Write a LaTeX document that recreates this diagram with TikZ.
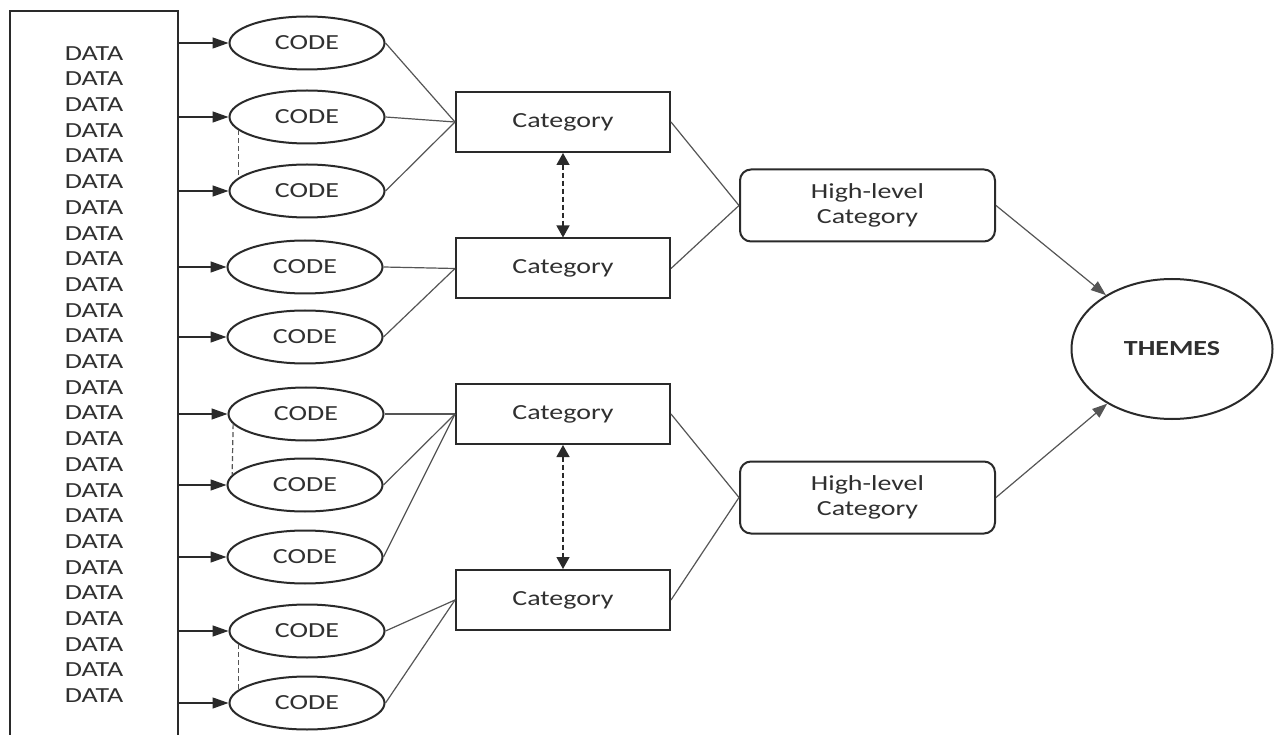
\documentclass[tikz,border=0pt]{standalone}
\usepackage{fontspec}
\setmainfont{Carlito}[FakeStretch=1.3]
\usetikzlibrary{shapes.geometric,arrows.meta}
\definecolor{bord}{HTML}{2a2a2a}
\definecolor{conn}{HTML}{555555}
\definecolor{txt}{HTML}{303030}
\begin{document}
\begin{tikzpicture}[x=1pt,y=-1pt,
  every node/.style={font={\fontsize{21.5}{25.7}\selectfont}, text=txt},
  datbox/.style={draw=bord, line width=2pt, rectangle, inner sep=0pt, minimum width=168pt, minimum height=727pt, align=center},
  codeell/.style={draw=bord, line width=2pt, ellipse, inner sep=0pt, minimum width=155pt, minimum height=53pt},
  catbox/.style={draw=bord, line width=2pt, rectangle, inner sep=0pt, minimum width=214pt, minimum height=60pt},
  hlbox/.style={draw=bord, line width=2pt, rectangle, rounded corners=11pt, inner sep=0pt, minimum width=255pt, minimum height=72pt, align=center},
  themeell/.style={draw=bord, line width=2pt, ellipse, inner sep=0pt, minimum width=201pt, minimum height=140pt, font={\fontsize{21.5}{25.7}\selectfont\bfseries}},
  feed/.style={draw=bord, line width=1.3pt, -{Triangle[length=16pt,width=11pt]}},
  link/.style={draw=conn, line width=1.2pt},
  dlink/.style={draw=conn, line width=1.2pt, dash pattern=on 5pt off 3pt},
  biarrow/.style={draw=bord, line width=1.3pt, dash pattern=on 5pt off 3pt, {Triangle[length=12pt,width=13pt]}-{Triangle[length=12pt,width=13pt]}},
  toarrow/.style={draw=conn, line width=1.2pt, -{Triangle[length=15pt,width=11pt]}}
]
\useasboundingbox (0,0) rectangle (1283,735);
\fill[white] (0,0) rectangle (1283,735);

\node[datbox] (data) at (94,374.5) {DATA\\DATA\\DATA\\DATA\\DATA\\DATA\\DATA\\DATA\\DATA\\DATA\\DATA\\DATA\\DATA\\DATA\\DATA\\DATA\\DATA\\DATA\\DATA\\DATA\\DATA\\DATA\\DATA\\DATA\\DATA\\DATA};

\node[codeell] (c1) at (307,43) {CODE};
\node[codeell] (c2) at (307,117) {CODE};
\node[codeell] (c3) at (307,191) {CODE};
\node[codeell] (c4) at (305,267) {CODE};
\node[codeell] (c5) at (305,337) {CODE};
\node[codeell] (c6) at (306,414) {CODE};
\node[codeell] (c7) at (305,485) {CODE};
\node[codeell] (c8) at (305,557) {CODE};
\node[codeell] (c9) at (307,631) {CODE};
\node[codeell] (c10) at (307,703) {CODE};

\node[catbox] (k1) at (563,122) {Category};
\node[catbox] (k2) at (563,268.5) {Category};
\node[catbox] (k3) at (563,414) {Category};
\node[catbox] (k4) at (563,600) {Category};

\node[hlbox] (h1) at (867.5,205.5) {High-level\\Category};
\node[hlbox] (h2) at (867.5,497.5) {High-level\\Category};

\node[themeell] (t) at (1172,349) {THEMES};

\foreach \c in {c1,c2,c3,c4,c5,c6,c7,c8,c9,c10}
  \draw[feed] (data.east |- \c.west) -- (\c.west);

\draw[dlink] (c2.191) -- (c3.169);
\draw[dlink] (c6.188) -- (c7.172);
\draw[dlink] (c9.191) -- (c10.169);

\foreach \c in {c1,c2,c3} \draw[link] (\c.east) -- (k1.west);
\foreach \c in {c4,c5} \draw[link] (\c.east) -- (k2.west);
\foreach \c in {c6,c7,c8} \draw[link] (\c.east) -- (k3.west);
\foreach \c in {c9,c10} \draw[link] (\c.east) -- (k4.west);

\draw[biarrow] (k1) -- (k2);
\draw[biarrow] (k3) -- (k4);

\draw[link] (k1.east) -- (h1.west);
\draw[link] (k2.east) -- (h1.west);
\draw[link] (k3.east) -- (h2.west);
\draw[link] (k4.east) -- (h2.west);

\draw[toarrow] (h1.east) -- (t);
\draw[toarrow] (h2.east) -- (t);
\end{tikzpicture}
\end{document}
